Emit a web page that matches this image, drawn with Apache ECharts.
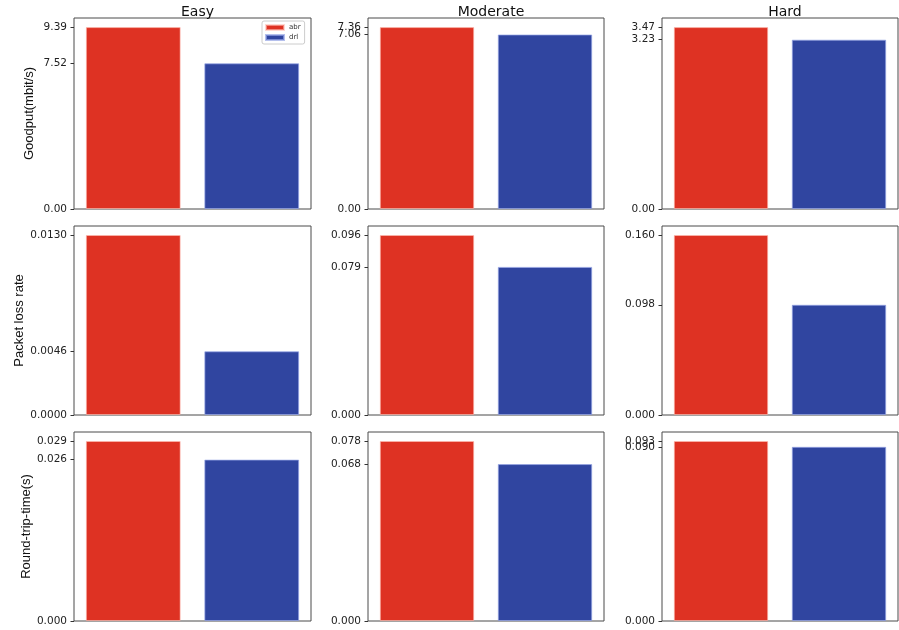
<!DOCTYPE html>
<html>
<head>
<meta charset="utf-8">
<script src="https://cdn.jsdelivr.net/npm/echarts@6/dist/echarts.min.js"></script>
<style>
  html, body { margin: 0; padding: 0; background: #fff; }
  #chart { width: 899px; height: 630px; }
</style>
</head>
<body>
<div id="chart"></div>
<script>
const scenarios = ['Easy', 'Moderate', 'Hard']
const metrics = ['Goodput(mbit/s)', 'Packet loss rate', 'Round-trip-time(s)']
const methods = ['abr', 'drl']

// one row per metric, one value per scenario
const abrGoodput = [9.39, 7.36, 3.47]
const drlGoodput = [7.52, 7.06, 3.23]
const abrLoss = [0.0130, 0.096, 0.160]
const drlLoss = [0.0046, 0.079, 0.098]
const abrRtt = [0.029, 0.078, 0.093]
const drlRtt = [0.026, 0.068, 0.090]
const labelDigits = [[2, 2, 2], [4, 3, 3], [3, 3, 3]]

const abrRows = [abrGoodput, abrLoss, abrRtt]
const drlRows = [drlGoodput, drlLoss, drlRtt]

const colLeft = [74, 368, 662]
const colWidth = [237, 236, 236]
const rowTop = [18, 226, 432]
const rowHeight = [191, 189, 189]

const RED = '#de3223'
const BLUE = '#3045a0'
const tickFont = 'DejaVu Sans'
const nameFont = "'Liberation Sans', sans-serif"

const grids = []
const xAxes = []
const yAxes = []
const series = []

// y axis with ticks/labels only at the given values
function tickAxis(idx, max, values, digits) {
  return {
    type: 'value',
    gridIndex: idx,
    position: 'left',
    offset: 0,
    min: 0,
    max: max,
    axisLine: { show: false },
    splitLine: { show: false },
    axisTick: {
      show: true,
      length: 3.5,
      customValues: values,
      lineStyle: { color: '#333' }
    },
    axisLabel: {
      customValues: values,
      hideOverlap: false,
      showMinLabel: true,
      showMaxLabel: true,
      formatter: v => v.toFixed(digits),
      fontFamily: tickFont,
      fontSize: 10.5,
      color: '#222',
      margin: 7
    }
  }
}

for (let r = 0; r < 3; r++) {
  for (let c = 0; c < 3; c++) {
    const idx = r * 3 + c
    const a = abrRows[r][c]
    const d = drlRows[r][c]
    const digits = labelDigits[r][c]
    const max = Math.max(a, d) * 1.05

    grids.push({
      left: colLeft[c],
      top: rowTop[r],
      width: colWidth[c],
      height: rowHeight[r],
      show: true,
      borderColor: '#4a4a4a',
      borderWidth: 1,
      backgroundColor: '#fff'
    })

    xAxes.push({
      type: 'category',
      gridIndex: idx,
      data: methods,
      axisLine: { show: false },
      axisTick: { show: false },
      axisLabel: { show: false },
      splitLine: { show: false }
    })

    const yAxis = tickAxis(idx, max, [0, a], digits)
    if (c === 0) {
      yAxis.name = metrics[r]
      yAxis.nameLocation = 'middle'
      yAxis.nameRotate = 90
      yAxis.nameGap = 38
      yAxis.nameTextStyle = { fontFamily: nameFont, fontSize: 13, color: '#111' }
    }
    yAxes.push(yAxis)

    series.push({
      type: 'bar',
      name: 'abr',
      xAxisIndex: idx,
      yAxisIndex: idx,
      data: [a, null],
      barWidth: '80%',
      barGap: '-100%',
      itemStyle: { color: RED, borderColor: 'rgba(255,190,180,0.6)', borderWidth: 1 }
    })
    series.push({
      type: 'bar',
      name: 'drl',
      xAxisIndex: idx,
      yAxisIndex: idx,
      data: [null, d],
      barWidth: '80%',
      barGap: '-100%',
      itemStyle: { color: BLUE, borderColor: 'rgba(150,165,230,0.7)', borderWidth: 1 }
    })
  }
}

// second axis per panel carries the drl tick, so close labels both stay visible
for (let r = 0; r < 3; r++) {
  for (let c = 0; c < 3; c++) {
    const idx = r * 3 + c
    const a = abrRows[r][c]
    const d = drlRows[r][c]
    yAxes.push(tickAxis(idx, Math.max(a, d) * 1.05, [d], labelDigits[r][c]))
  }
}

const titles = scenarios.map((s, c) => ({
  text: s,
  left: colLeft[c] + colWidth[c] / 2,
  top: 0,
  textAlign: 'center',
  textStyle: { fontFamily: tickFont, fontSize: 14, fontWeight: 'normal', color: '#111' }
}))

const chart = echarts.init(document.getElementById('chart'))
chart.setOption({
  animation: false,
  title: titles,
  legend: {
    data: methods,
    orient: 'vertical',
    left: 262,
    top: 21,
    icon: 'rect',
    itemWidth: 18,
    itemHeight: 5,
    itemGap: 3,
    padding: [3, 4, 3, 3],
    borderColor: '#cccccc',
    borderWidth: 1,
    borderRadius: 2,
    backgroundColor: '#fff',
    textStyle: { fontFamily: tickFont, fontSize: 7, color: '#333' }
  },
  grid: grids,
  xAxis: xAxes,
  yAxis: yAxes,
  series: series
})
</script>
</body>
</html>
